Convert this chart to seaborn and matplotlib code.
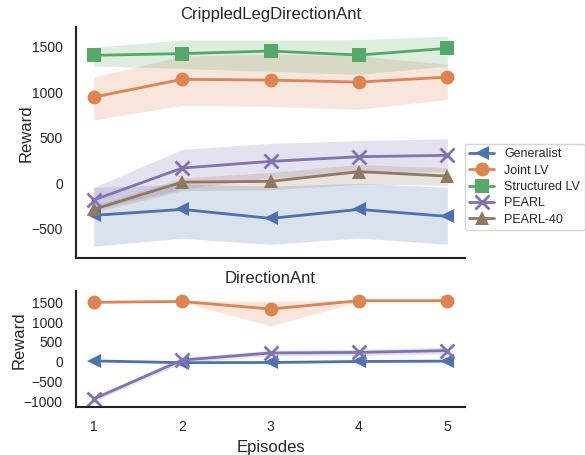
import numpy as np
import pandas as pd
import matplotlib
matplotlib.use("Agg")
import matplotlib.pyplot as plt
import seaborn as sns

episodes = [1, 2, 3, 4, 5]
methods = ["Generalist", "Joint LV", "Structured LV", "PEARL", "PEARL-40"]

# CrippledLegDirectionAnt
crip_mean = {
    "Generalist":    [-352, -286, -385, -286, -363],
    "Joint LV":      [948, 1143, 1135, 1113, 1168],
    "Structured LV": [1407, 1426, 1454, 1410, 1484],
    "PEARL":         [-183, 168, 242, 293, 308],
    "PEARL-40":      [-286, 14, 22, 129, 80],
}
crip_low = {
    "Generalist":    [-690, -604, -670, -600, -670],
    "Joint LV":      [696, 857, 846, 813, 923],
    "Structured LV": [1289, 1264, 1230, 1198, 1289],
    "PEARL":         [-290, -60, 60, 110, 130],
    "PEARL-40":      [-320, -80, -70, -11, -20],
}
crip_high = {
    "Generalist":    [-44, -10, -30, 0, -44],
    "Joint LV":      [1168, 1400, 1420, 1400, 1308],
    "Structured LV": [1498, 1575, 1575, 1580, 1619],
    "PEARL":         [-44, 374, 440, 470, 491],
    "PEARL-40":      [-250, 60, 120, 209, 170],
}

# DirectionAnt
dir_methods = ["Generalist", "Joint LV", "PEARL"]
dir_mean = {
    "Generalist": [20, -25, -20, 5, 15],
    "Joint LV":   [1500, 1520, 1330, 1540, 1540],
    "PEARL":      [-940, 40, 220, 235, 280],
}
dir_low = {
    "Generalist": [0, -45, -40, -15, -5],
    "Joint LV":   [1480, 1500, 900, 1520, 1520],
    "PEARL":      [-1000, -30, 150, 160, 200],
}
dir_high = {
    "Generalist": [40, -5, 0, 25, 35],
    "Joint LV":   [1520, 1540, 1520, 1560, 1560],
    "PEARL":      [-880, 110, 290, 310, 360],
}

markers = {"Generalist": "<", "Joint LV": "o", "Structured LV": "s",
           "PEARL": "x", "PEARL-40": "^"}
sns.set_theme(style="white")
plt.rcParams["font.family"] = ["Liberation Sans", "DejaVu Sans"]
deep = sns.color_palette("deep")
colors = {"Generalist": deep[0], "Joint LV": deep[1], "Structured LV": deep[2],
          "PEARL": deep[4], "PEARL-40": deep[5]}

fig = plt.figure(figsize=(5.85, 4.55), dpi=100)
ax1 = fig.add_axes([0.130, 0.433, 0.665, 0.508])
ax2 = fig.add_axes([0.130, 0.105, 0.665, 0.255], sharex=ax1)


def draw(ax, names, mean, low, high):
    for m in names:
        df = pd.DataFrame({"Episodes": episodes, "Reward": mean[m]})
        sns.lineplot(data=df, x="Episodes", y="Reward", ax=ax, color=colors[m],
                     marker=markers[m], markersize=10, linewidth=2,
                     markeredgewidth=2 if m == "PEARL" else 0,
                     markeredgecolor=colors[m], label=m)
        ax.fill_between(episodes, low[m], high[m], color=colors[m], alpha=0.2,
                        linewidth=0)


draw(ax1, methods, crip_mean, crip_low, crip_high)
draw(ax2, dir_methods, dir_mean, dir_low, dir_high)

ax1.set_title("CrippledLegDirectionAnt", fontsize=12)
ax2.set_title("DirectionAnt", fontsize=12)
ax1.set_ylabel("Reward", fontsize=12)
ax2.set_ylabel("Reward", fontsize=12)
ax1.yaxis.set_label_coords(-0.108, 0.54)
ax2.yaxis.set_label_coords(-0.126, 0.575)
ax1.set_xlabel("")
ax2.set_xlabel("Episodes", fontsize=12)
ax1.set_yticks([-500, 0, 500, 1000, 1500])
ax2.set_yticks([-1000, -500, 0, 500, 1000, 1500])
ax2.set_xticks(episodes)
ax1.set_ylim(-820, 1720)
ax2.set_ylim(-1150, 1780)
ax1.tick_params(labelbottom=False, labelsize=10)
ax2.tick_params(labelsize=10)
for ax in (ax1, ax2):
    sns.despine(ax=ax)
    for s in ("left", "bottom"):
        ax.spines[s].set_color("#222222")
        ax.spines[s].set_linewidth(1.5)

ax2.get_legend().remove()
leg = ax1.legend(loc="center left", bbox_to_anchor=(0.99, 0.307), fontsize=9,
                 frameon=True, borderpad=0.35, labelspacing=0.35,
                 handlelength=2.0, handletextpad=0.8, borderaxespad=0.3)

fig.savefig("out.png", dpi=100)
